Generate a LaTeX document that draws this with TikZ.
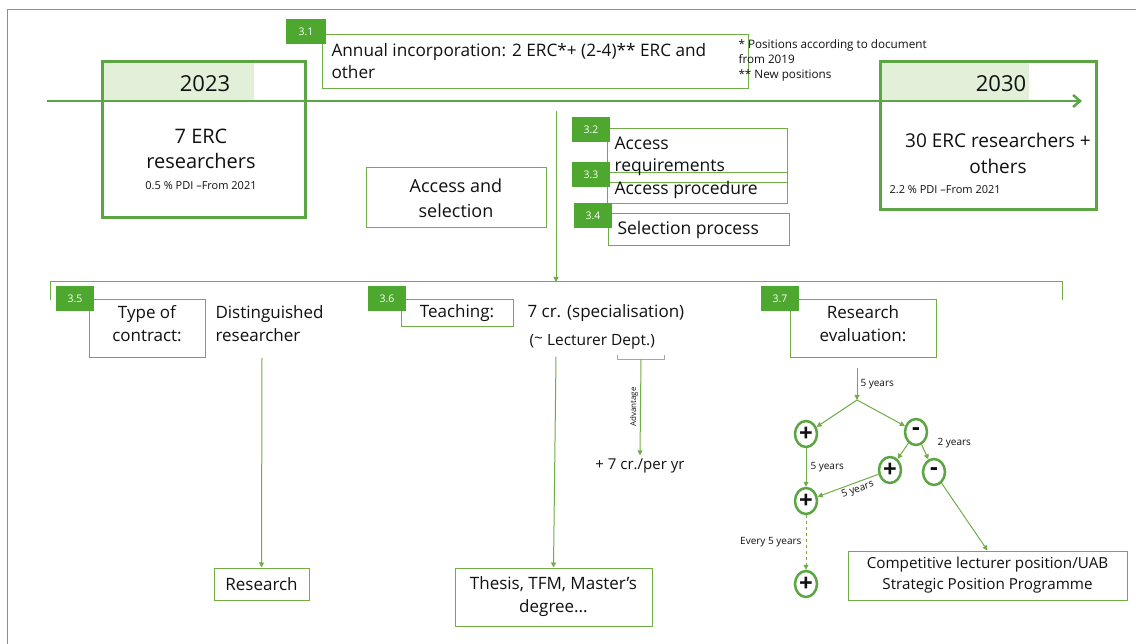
\documentclass[tikz,border=0pt]{standalone}
\usepackage{fontspec}
\setmainfont{Open Sans}
\usetikzlibrary{arrows.meta,shapes.geometric}
\definecolor{gline}{HTML}{70AD47}
\definecolor{gthick}{HTML}{5CA544}
\definecolor{gtag}{HTML}{4EA72E}
\definecolor{gfill}{HTML}{E2F0D9}
\definecolor{txt}{HTML}{111111}
\begin{document}
\begin{tikzpicture}[x=1pt,y=-1pt,
  every node/.style={text=txt},
  fmain/.style={font=\fontsize{17.5}{23}\selectfont},
  fbig/.style={font=\fontsize{22}{26}\selectfont},
  fmid/.style={font=\fontsize{15}{21}\selectfont},
  fsmall/.style={font=\fontsize{11}{15}\selectfont},
  ftiny/.style={font=\fontsize{10}{11}\selectfont},
  yearbox/.style={draw=gthick, line width=3pt, inner sep=0},
  headfill/.style={fill=gfill, inner sep=0},
  tbox/.style={draw=gline, line width=1pt, inner sep=0},
  tagbox/.style={fill=gtag, text=white, font=\fontsize{10.5}{12}\selectfont, inner sep=0, minimum width=38pt, minimum height=25pt},
  conn/.style={draw=gline, line width=1pt},
  arr/.style={conn, -{Triangle[length=5pt,width=5pt]}},
  ring/.style={ellipse, draw=gthick, line width=2.5pt, minimum width=22pt, minimum height=26pt, inner sep=0, font=\fontsize{24}{24}\selectfont\bfseries},
]
\useasboundingbox (0,0) rectangle (1136,644);
\fill[white] (0,0) rectangle (1136,644);
% frame
\coordinate (fbl) at (7,644);
\coordinate (ftl) at (7,10);
\coordinate (ftr) at (1136,10);
\draw[gline, line width=1pt] (fbl) -- (ftl) -- (ftr);

% year boxes
\node[headfill, minimum width=152pt, minimum height=39pt] (h23) at (178,81.5) {};
\node[headfill, minimum width=148pt, minimum height=38pt] (h30) at (955,81) {};
\coordinate (tl0) at (47,101);
\coordinate (tl1) at (1082,101);
\draw[gthick, line width=2.5pt, -{Straight Barb[length=7pt,width=12pt]}] (tl0) -- (tl1);
\node[yearbox, minimum width=203pt, minimum height=156pt] (b23) at (203.5,140) {};
\node[yearbox, minimum width=216pt, minimum height=148pt] (b30) at (988,136) {};
\node[fbig] (t23) at (205,84) {2023};
\node[fbig] (t30) at (1001,84) {2030};
\node[fmain, align=center, font=\fontsize{20}{25}\selectfont] (erc7) at (201,149) {7 ERC\\researchers};
\node[fsmall] (pdi05) at (201,186) {0.5 \% PDI –From 2021};
\node[fmain, align=center, font=\fontsize{19}{26}\selectfont] (erc30) at (998,153) {30 ERC researchers +\\others};
\node[fsmall, anchor=west] (pdi22) at (886,190) {2.2 \% PDI –From 2021};

% 3.1
\node[tbox, minimum width=426pt, minimum height=54pt] (b31) at (535,62) {};
\node[tagbox, minimum width=40pt] (g31) at (306,31.5) {3.1};
\node[fmain, anchor=west, align=left, font=\fontsize{17.2}{22}\selectfont] (t31) at (328,61) {Annual incorporation: 2 ERC*+ (2-4)** ERC and\\other};
\node[fsmall, anchor=north west, align=left, font=\fontsize{11.7}{15}\selectfont] (fn) at (735,36) {* Positions according to document\\from 2019\\** New positions};

% access and selection
\node[tbox, minimum width=180pt, minimum height=60pt] (bacc) at (456,198) {};
\node[fmain, align=center, font=\fontsize{18}{25}\selectfont] (tacc) at (456,198) {Access and\\selection};
\coordinate (v0) at (556,111);
\coordinate (v1) at (556,282);
\draw[arr] (v0) -- (v1);

% 3.2 - 3.4
\node[tbox, minimum width=180pt, minimum height=54pt] (b32) at (697,156) {};
\node[tbox, minimum width=180pt, minimum height=31pt] (b33) at (697,188.5) {};
\node[tbox, minimum width=181pt, minimum height=32pt] (b34) at (698.5,230) {};
\node[tagbox] (g32) at (591,130) {3.2};
\node[tagbox] (g33) at (591,175) {3.3};
\node[tagbox] (g34) at (593,216) {3.4};
\node[fmain, anchor=west, align=left, font=\fontsize{17.5}{22}\selectfont] (t32) at (611,156) {Access\\requirements};
\node[fmain, anchor=west, font=\fontsize{17.5}{22}\selectfont] (t33) at (611,190) {Access procedure};
\node[fmain, anchor=west, font=\fontsize{17.5}{22}\selectfont] (t34) at (614,230) {Selection process};

% bracket
\coordinate (br0) at (50,300);
\coordinate (br1) at (50,282);
\coordinate (br2) at (1062,282);
\coordinate (br3) at (1062,300);
\draw[conn] (br0) -- (br1) -- (br2) -- (br3);

% 3.5
\node[tbox, minimum width=116pt, minimum height=58pt] (b35) at (147,329) {};
\node[tagbox] (g35) at (75,299) {3.5};
\node[fmain, align=center, font=\fontsize{17}{23}\selectfont] (t35) at (147,324) {Type of\\contract:};
\node[fmain, anchor=west, align=left, font=\fontsize{17}{23}\selectfont] (dist) at (212,324) {Distinguished\\researcher};
\node[tbox, minimum width=95pt, minimum height=32pt, fmain, font=\fontsize{17}{22}\selectfont] (res) at (261.5,584) {Research};
\coordinate (a35) at (262,358);
\draw[arr] (a35) -- (res.north);

% 3.6
\node[tbox, minimum width=112pt, minimum height=27pt] (b36) at (457,313.5) {};
\node[tagbox] (g36) at (387,299) {3.6};
\node[fmain, font=\fontsize{17}{22}\selectfont] (t36) at (457,313) {Teaching:};
\node[fmain, anchor=west, font=\fontsize{17}{22}\selectfont] (cr7) at (524,313) {7 cr. (specialisation)};
\node[fmid, anchor=west, font=\fontsize{15.5}{21}\selectfont] (lect) at (526,342) {(\raisebox{0.25ex}{\textasciitilde} Lecturer Dept.)};
\node[tbox, minimum width=197pt, minimum height=58pt, fmain, align=center, font=\fontsize{17}{23}\selectfont] (thes) at (553.5,597) {Thesis, TFM, Master’s\\degree...};
\coordinate (a36) at (556,357);
\draw[arr] (a36) -- (thes.north);
\coordinate (bk0) at (617,355);
\coordinate (bk1) at (617,359);
\coordinate (bk2) at (664,359);
\coordinate (bk3) at (664,355);
\coordinate (bkm) at (641,359);
\draw[draw=gray!70, line width=0.8pt] (bk0) -- (bk1) -- (bk2) -- (bk3);
\node[fmid] (plus7) at (640,466) {+ 7 cr./per yr};
\draw[arr] (bkm) -- (plus7.north) node[midway, left, rotate=90, anchor=south, font=\fontsize{8}{9}\selectfont, inner sep=2pt] (adv) {Advantage};

% 3.7
\node[tbox, minimum width=146pt, minimum height=58pt] (b37) at (863,329) {};
\node[tagbox] (g37) at (780,299) {3.7};
\node[fmain, align=center, font=\fontsize{17}{23}\selectfont] (t37) at (863,324) {Research\\evaluation:};
\coordinate (a37) at (857,368);
\coordinate (J) at (857,400);
\draw[arr] (a37) -- (J) node[midway, right, ftiny, inner sep=3pt] (l5a) {5 years};

\node[ring] (P1) at (806,434) {+};
\node[ring] (M1) at (916,432) {-};
\node[ring] (P2) at (890,470) {+};
\node[ring] (M2) at (934,472) {-};
\node[ring] (P3) at (806,501) {+};
\node[ring] (P4) at (806,584) {+};
\node[tbox, minimum width=279pt, minimum height=49pt, fmid, align=center, font=\fontsize{15.2}{21}\selectfont] (comp) at (987.5,575.5) {Competitive lecturer position/UAB\\Strategic Position Programme};

\draw[arr] (J) -- (P1);
\draw[arr] (J) -- (M1);
\draw[arr] (P1) -- (P3) node[midway, right, ftiny, inner sep=4pt] (l5b) {5 years};
\draw[arr] (M1) -- (P2);
\draw[arr] (M1) -- (M2);
\node[ftiny, anchor=west] (l2) at (934,443) {2 years};
\draw[arr] (P2) -- (P3) node[pos=0.38, sloped, below, ftiny, inner sep=2pt] (l5c) {5 years};
\draw[arr, dashed] (P3) -- (P4) node[midway, left, ftiny, inner sep=4pt] (l5d) {Every 5 years};
\draw[arr] (M2) -- (comp.north);
\end{tikzpicture}
\end{document}
